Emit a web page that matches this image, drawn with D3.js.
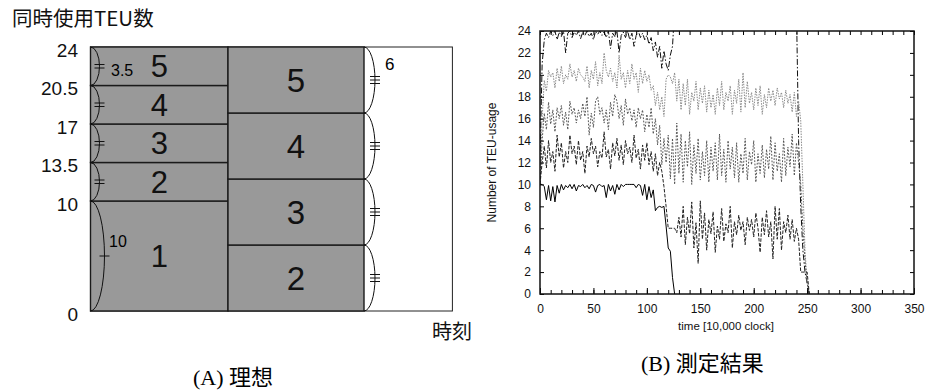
<!DOCTYPE html>
<html>
<head>
<meta charset="utf-8">
<script src="https://cdn.jsdelivr.net/npm/d3@7"></script>
<style>
  body { margin: 0; background: #fff; }
  svg { display: block; font-family: "Liberation Sans", Arial, sans-serif; }
  .cjk { font-family: "Noto Sans CJK JP", "Noto Sans CJK SC", sans-serif; }
</style>
</head>
<body>
<div id="chart"></div>
<script>
// ---- (A) ideal ----
const idealYTicks = [0, 10, 13.5, 17, 20.5, 24];
const phase1Tasks = [1, 2, 3, 4, 5];
const phase1Sizes = [10, 3.5, 3.5, 3.5, 3.5];
const phase2Tasks = [2, 3, 4, 5];
const phase2Sizes = [6, 6, 6, 6];
const braceMarks1 = [1, 2, 2, 2, 2];   // tick marks on each brace
const braceMarks2 = [3, 3, 3, 3];

// ---- (B) measured, one value every timeStep ----
const timeStep = 2;
const xTicksB = [0, 50, 100, 150, 200, 250, 300, 350];
const yTicksB = [0, 2, 4, 6, 8, 10, 12, 14, 16, 18, 20, 22, 24];

const task1 = [
  10, 10, 9.8, 8.6, 9.9, 8.5, 9.8, 8.4, 9.9, 9.2,
  10, 9.5, 9.9, 9.7, 10, 9.6, 10, 9.4, 9.9, 9.8,
  10, 9.7, 9.9, 9.6, 10, 9.9, 9.3, 9.9, 10, 9.8,
  9.9, 8.8, 10, 9.4, 9.9, 9.1, 10, 9.5, 10, 9.8,
  10, 10, 10, 10, 10, 9.7, 10, 9.9, 9.0, 10,
  8.6, 9.8, 8.8, 9.5, 7.6, 7.9, 8, 7.9, 8, 6.2,
  4.2, 3.9, 1.5, 0
];
const task2 = [
  10, 12, 13.5, 11.5, 14, 12, 13, 11.2, 14.5, 12.5,
  13.8, 11.5, 13, 12, 14.5, 12.8, 13.5, 11.8, 14, 12.2,
  13, 11, 13.5, 12.5, 14.2, 12.8, 13.5, 11.6, 13, 12.4,
  14.8, 12.5, 13.2, 11.4, 13.8, 12.6, 14.2, 12.2, 13.6, 11.8,
  14, 12.8, 13.4, 12, 14.5, 12.4, 13.2, 11.4, 13.6, 12.2,
  13.8, 11.8, 13, 11.2, 12.8, 10.8, 12, 11.2, 9.8, 8,
  6, 6, 6, 6, 5.6, 7, 5.2, 8, 4.5, 7,
  5.5, 8.4, 4.2, 6.5, 2.8, 8.5, 5, 7.4, 4, 6.8,
  5.5, 7.5, 3.8, 6.2, 5, 7.8, 4.8, 6.4, 5.6, 8,
  4.2, 6.6, 5.4, 7.2, 5.8, 6.6, 4.5, 7, 5.8, 6.8,
  5.2, 7.4, 6, 3.8, 7, 5.4, 7.6, 5.2, 6.6, 3.2,
  8, 5, 7.8, 4, 6.6, 5.6, 7.2, 5, 6.8, 4.8,
  6, 5, 2, 2, 2, 2, 0
];
const task3 = [
  10, 14, 16.5, 15, 17.5, 15.5, 16.8, 14.8, 17, 16,
  17.2, 15.4, 16.6, 15, 17.6, 16.4, 17, 15.6, 16.8, 16,
  17.4, 16.2, 18, 14.5, 16.5, 15.2, 17.6, 18, 16.4, 17,
  15.6, 16.8, 15, 17.5, 16.2, 18.2, 17.6, 16, 17.2, 15.4,
  17.8, 16.4, 17, 15.8, 16.8, 15.2, 17, 16, 16.8, 14.8,
  16.4, 15.2, 17, 14.6, 16, 13.6, 15.4, 11.8, 14.2, 12,
  14.5, 10.5, 14.2, 10, 15.6, 11, 14.6, 10.2, 14, 11.6,
  14.8, 10, 13.6, 11, 14.2, 10.4, 13, 10.8, 14, 10.2,
  13.4, 11.2, 13.8, 10.4, 14.6, 10.8, 13.2, 10.2, 14, 11.4,
  13.4, 10.6, 13.8, 10.2, 12.8, 11, 14.2, 10.4, 13, 11.8,
  14, 10.2, 12.8, 11, 13.6, 10.6, 13.2, 11.4, 14.4, 10.4,
  13.8, 11.2, 12.8, 10.2, 14.2, 10.8, 13.4, 11.6, 14.6, 10.8,
  13.8, 12, 10, 6, 3, 1, 0
];
const task4 = [
  10, 16, 19.5, 18.5, 20.4, 19.8, 20.2, 18.8, 20.6, 19.4,
  20.8, 19.2, 20, 19.6, 21, 19.8, 20.4, 19.4, 20.6, 20,
  19.8, 19.4, 20.8, 18.8, 20.4, 19.6, 21.2, 19, 20.2, 19.2,
  22, 20.4, 19.8, 20.6, 19.4, 20.2, 18.8, 21.8, 19.6, 20.2,
  18.8, 20.4, 19.2, 21, 19.6, 20.2, 18.4, 20.6, 19.2, 20.4,
  19.4, 20, 18.6, 19, 17.2, 18.4, 16.8, 18, 16.2, 19.6,
  20, 19.8, 19.2, 20.2, 17.6, 19.6, 16.8, 19.2, 17.2, 19.6,
  16.4, 18.4, 17.6, 19.4, 16.8, 18.8, 17.4, 19, 16.6, 18.6,
  17, 18.2, 16.4, 18.8, 17.2, 19.4, 16.8, 18.4, 17.6, 19,
  16.4, 18.6, 17.4, 19.6, 16.6, 20.2, 17, 19.4, 17.4, 18.4,
  16.8, 18.8, 17.2, 19, 16.4, 18.2, 17, 18.8, 17.6, 18.6,
  17.2, 18.8, 17.8, 18.4, 17, 18.6, 17.4, 18.2, 16.6, 18.4,
  16.2, 17.6, 15.8, 10, 4, 1, 0
];
// values above 24 leave the plot and are clipped
const task5 = [
  12, 21, 23.2, 23.8, 23.4, 24, 23.6, 24, 23.2, 23.9,
  23.5, 24, 22, 23.8, 24, 23.4, 23.9, 23.6, 24, 23.3,
  23.9, 23.6, 24, 23.5, 23.8, 23.2, 24, 23.7, 24, 23.6,
  23.9, 23.4, 24, 22.4, 23.8, 23.5, 24, 22, 23.6, 23.9,
  23.4, 24, 23.2, 23.8, 22.6, 23.6, 24, 23.4, 23.8, 23.2,
  23.6, 22.8, 23.4, 22.2, 23, 21.6, 22.6, 20.6, 22.2, 21,
  20.4, 21.8, 22.6, 26, 26, 26, 26, 26, 26, 26,
  26, 26, 26, 26, 26, 26, 26, 26, 26, 26,
  26, 26, 26, 26, 26, 26, 26, 26, 26, 26,
  26, 26, 26, 26, 26, 26, 26, 26, 26, 26,
  26, 26, 26, 26, 26, 26, 26, 26, 26, 26,
  26, 26, 26, 26, 26, 26, 26, 26, 26, 26,
  26, 14, 8, 4, 2, 1, 0
];
const measuredSeries = [task5, task4, task3, task2, task1];
const seriesStyles = [
  { stroke: '#111', dash: '6,2,1.5,2' },
  { stroke: '#8a8a8a', dash: '1.5,1.2' },
  { stroke: '#555', dash: '1.8,1.5' },
  { stroke: '#222', dash: '3.5,1.5' },
  { stroke: '#000', dash: null }
];

const svg = d3.select('#chart').append('svg')
  .attr('width', 926).attr('height', 392);

// ================= Panel A =================
const yA = d3.scaleLinear().domain([0, 24]).range([311, 47]);
const xA = d3.scaleLinear().domain([0, 1, 2]).range([90.5, 228, 364]);
const endPhase = 2.65;

const gA = svg.append('g');

gA.append('text').attr('class', 'cjk')
  .attr('x', 12).attr('y', 26)
  .style('font-size', '20.5px').attr('fill', '#111')
  .text('同時使用TEU数');

// frame
gA.append('rect')
  .attr('x', xA(0)).attr('y', yA(24))
  .attr('width', xA(endPhase) - xA(0)).attr('height', yA(0) - yA(24))
  .attr('fill', '#fff').attr('stroke', '#222').attr('stroke-width', 1);

function stackSegments(tasks, sizes) {
  let acc = 0;
  return tasks.map((t, i) => {
    const s = { task: t, from: acc, to: acc + sizes[i], size: sizes[i] };
    acc += sizes[i];
    return s;
  });
}
const seg1 = stackSegments(phase1Tasks, phase1Sizes);
const seg2 = stackSegments(phase2Tasks, phase2Sizes);

function drawColumn(segs, p0, p1, fs) {
  gA.append('g').selectAll('rect').data(segs).join('rect')
    .attr('x', xA(p0)).attr('width', xA(p1) - xA(p0))
    .attr('y', d => yA(d.to)).attr('height', d => yA(d.from) - yA(d.to))
    .attr('fill', '#999').attr('stroke', '#1a1a1a').attr('stroke-width', 1.4);
  gA.append('g').selectAll('text').data(segs).join('text')
    .attr('x', (xA(p0) + xA(p1)) / 2)
    .attr('y', d => (yA(d.from) + yA(d.to)) / 2)
    .attr('dy', '0.36em').attr('text-anchor', 'middle')
    .style('font-size', fs + 'px').attr('fill', '#111')
    .text(d => d.task);
}
drawColumn(seg1, 0, 1, 31);
drawColumn(seg2, 1, 2, 33);

function drawBraces(segs, x0, bulge, marks) {
  const g = gA.append('g');
  g.selectAll('path').data(segs).join('path')
    .attr('d', d => {
      const y0 = yA(d.to), y1 = yA(d.from);
      return `M${x0},${y0} A${bulge},${(y1 - y0) / 2} 0 0 1 ${x0},${y1}`;
    })
    .attr('fill', 'none').attr('stroke', '#111').attr('stroke-width', 1);
  segs.forEach((d, i) => {
    const ym = (yA(d.to) + yA(d.from)) / 2;
    const n = marks[i];
    for (let k = 0; k < n; k++) {
      const yy = ym + (k - (n - 1) / 2) * 3.5;
      g.append('line')
        .attr('x1', x0 + bulge - 5).attr('x2', x0 + bulge + 5)
        .attr('y1', yy).attr('y2', yy)
        .attr('stroke', '#111').attr('stroke-width', 1);
    }
  });
}
drawBraces(seg1.slice(0, 1), xA(0), 14, braceMarks1.slice(0, 1));
drawBraces(seg1.slice(1), xA(0), 9, braceMarks1.slice(1));
drawBraces(seg2, xA(2), 11, braceMarks2);

// size labels
gA.append('text').attr('x', 111).attr('y', 76)
  .style('font-size', '16px').text(phase1Sizes[1]);
gA.append('text').attr('x', 109).attr('y', 247)
  .style('font-size', '16px').text(phase1Sizes[0]);
gA.append('text').attr('x', 385).attr('y', 70)
  .style('font-size', '17px').text(phase2Sizes[0]);

// y tick labels
gA.append('g').selectAll('text').data(idealYTicks).join('text')
  .attr('x', 78).attr('y', d => yA(d) + 3)
  .attr('dy', '0.36em').attr('text-anchor', 'end')
  .style('font-size', '19px').attr('fill', '#111')
  .text(d => d);

gA.append('text').attr('class', 'cjk')
  .attr('x', 432).attr('y', 339)
  .style('font-size', '20px').attr('fill', '#111').text('時刻');

const capA = gA.append('text').attr('x', 193).attr('y', 385).style('font-size', '22px');
capA.append('tspan').style('font-family', '"Liberation Serif", serif').text('(A) ');
capA.append('tspan').attr('class', 'cjk').text('理想');

// ================= Panel B =================
const xB = d3.scaleLinear().domain([0, 350]).range([540, 914]);
const yB = d3.scaleLinear().domain([0, 24]).range([294, 31]);
const gB = svg.append('g');

gB.append('clipPath').attr('id', 'plotB').append('rect')
  .attr('x', xB(0)).attr('y', yB(24))
  .attr('width', xB(350) - xB(0)).attr('height', yB(0) - yB(24));

const line = d3.line()
  .x((d, i) => xB(i * timeStep))
  .y(d => yB(d));

gB.append('g').attr('clip-path', 'url(#plotB)')
  .selectAll('path').data(measuredSeries).join('path')
  .attr('d', line)
  .attr('fill', 'none')
  .attr('stroke', (d, i) => seriesStyles[i].stroke)
  .attr('stroke-width', 1)
  .attr('stroke-dasharray', (d, i) => seriesStyles[i].dash);

// axes with inward ticks
gB.append('g').attr('transform', `translate(0,${yB(0)})`)
  .call(d3.axisBottom(xB).tickValues(d3.range(0, 351, 10)).tickSize(-4).tickFormat(''))
  .call(g => g.select('.domain').remove());
gB.append('g').attr('transform', `translate(0,${yB(0)})`)
  .call(d3.axisBottom(xB).tickValues(xTicksB).tickSize(-6).tickPadding(10))
  .call(g => g.select('.domain').remove())
  .selectAll('text').style('font-size', '12px').attr('fill', '#111');
gB.append('g').attr('transform', `translate(0,${yB(24)})`)
  .call(d3.axisTop(xB).tickValues(d3.range(0, 351, 10)).tickSize(-4).tickFormat(''))
  .call(g => g.select('.domain').remove());
gB.append('g').attr('transform', `translate(${xB(0)},0)`)
  .call(d3.axisLeft(yB).tickValues(yTicksB).tickSize(-4).tickPadding(9))
  .call(g => g.select('.domain').remove())
  .selectAll('text').style('font-size', '12px').attr('fill', '#111');
gB.append('g').attr('transform', `translate(${xB(350)},0)`)
  .call(d3.axisRight(yB).tickValues(yTicksB).tickSize(-4).tickFormat(''))
  .call(g => g.select('.domain').remove());

gB.append('rect')
  .attr('x', xB(0)).attr('y', yB(24))
  .attr('width', xB(350) - xB(0)).attr('height', yB(0) - yB(24))
  .attr('fill', 'none').attr('stroke', '#111').attr('stroke-width', 1.5);

gB.append('text')
  .attr('transform', `translate(496,${(yB(0) + yB(24)) / 2}) rotate(-90)`)
  .attr('text-anchor', 'middle').style('font-size', '12px').attr('fill', '#111')
  .text('Number of TEU-usage');
gB.append('text')
  .attr('x', 726).attr('y', 330).attr('text-anchor', 'middle')
  .style('font-size', '11.5px').attr('fill', '#111')
  .text('time [10,000 clock]');

const capB = gB.append('text').attr('x', 641).attr('y', 371).style('font-size', '22px');
capB.append('tspan').style('font-family', '"Liberation Serif", serif').text('(B) ');
capB.append('tspan').attr('class', 'cjk').text('測定結果');
</script>
</body>
</html>
